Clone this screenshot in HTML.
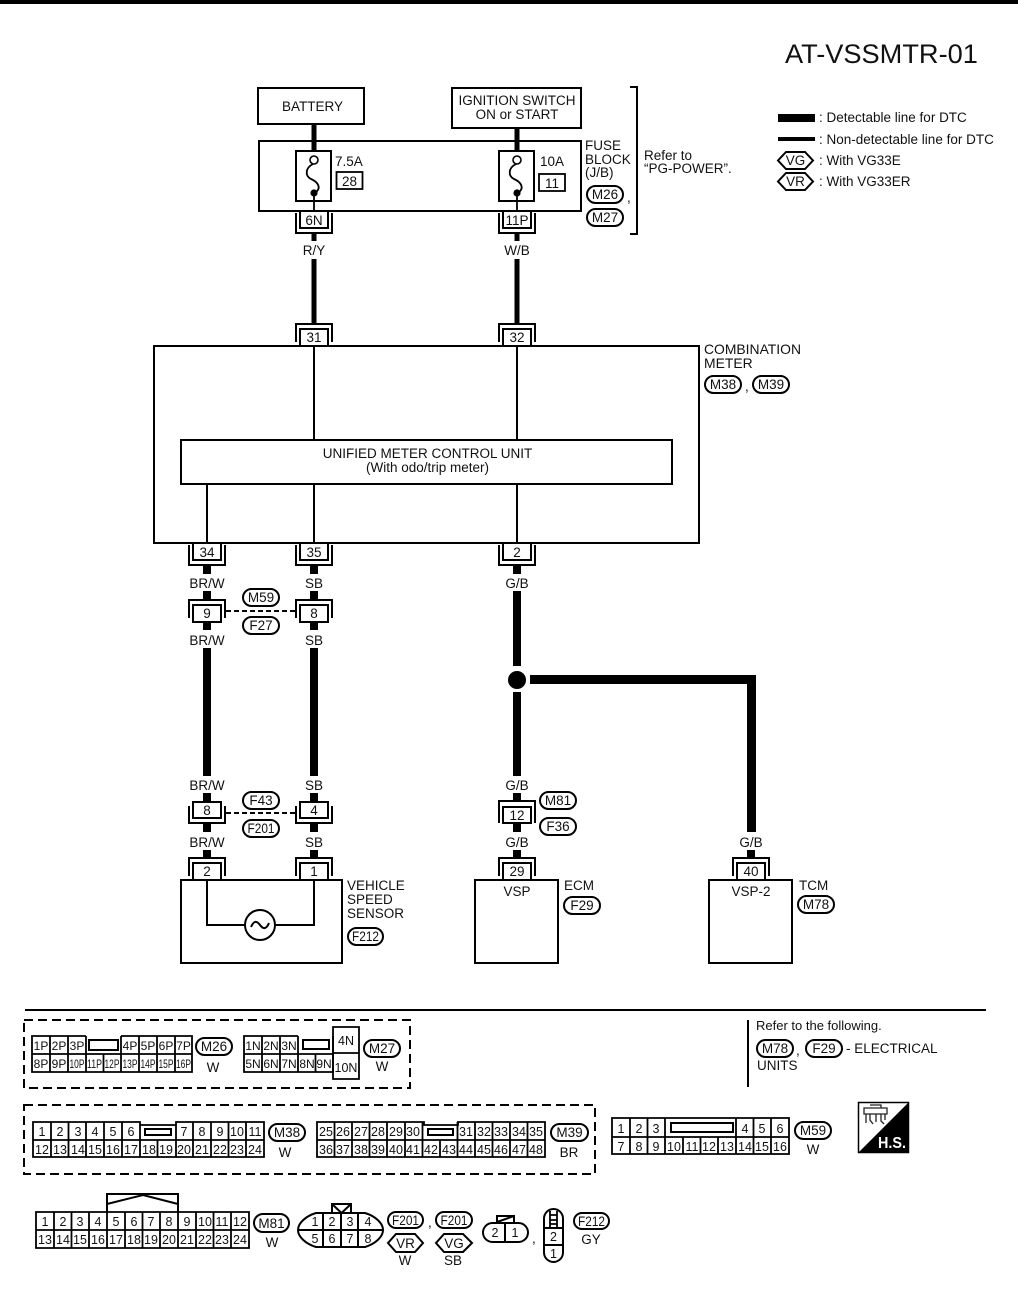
<!DOCTYPE html>
<html><head><meta charset="utf-8"><title>AT-VSSMTR-01</title>
<style>
html,body{margin:0;padding:0;background:#fff}
svg{display:block}
text{font-family:"Liberation Sans",sans-serif;font-size:13.5px;fill:#111}
.m{text-anchor:middle}
.g{font-size:12.5px;text-anchor:middle}
.h{font-size:12px;text-anchor:middle}
.l{fill:none;stroke:#000;stroke-width:2}
.t{fill:none;stroke:#000;stroke-width:1.8}
.p{fill:#fff;stroke:#000;stroke-width:2}
.w{stroke:#000;stroke-width:8;fill:none}
.n{stroke:#000;stroke-width:5;fill:none}
</style></head><body>
<svg xmlns="http://www.w3.org/2000/svg" width="1018" height="1293" viewBox="0 0 1018 1293">
<defs>
<g id="uo"><rect class="p" x="-14" y="0" width="28" height="17" /><path class="l" d="M-18 2V22H18V2"/></g>
<g id="dn"><path class="l" d="M-18 18V0H18V18"/><rect class="p" x="-14" y="5" width="28" height="17"/></g>
<g id="fuse"><rect class="l" x="-18" y="151" width="35" height="50"/>
<circle cx="0" cy="160" r="4" fill="#fff" stroke="#000" stroke-width="1.6"/>
<circle cx="0" cy="193" r="3.6" fill="#000"/>
<path class="t" d="M-1 164C-9 168-9 176-3 179C4 182 8 188 1 193"/><path class="t" d="M0 193V211"/></g>
</defs>
<rect x="0" y="0" width="1018" height="4" fill="#000"/>
<text x="785" y="63" style="font-size:27.2px">AT-VSSMTR-01</text>

<!-- top boxes -->
<rect class="l" x="258" y="88" width="106" height="36"/>
<text class="m" x="312.500" y="111">BATTERY</text>
<rect class="l" x="452" y="88" width="129" height="40"/>
<text class="m" x="517" y="105">IGNITION SWITCH</text>
<text class="m" x="517" y="119">ON or START</text>
<path class="n" d="M314 124V151M517 128V151"/>
<rect class="l" x="259" y="141" width="322" height="70"/>
<use href="#fuse" x="314"/><use href="#fuse" x="517"/>
<text x="335" y="166">7.5A</text>
<rect class="t" x="336.500" y="172" width="26" height="17"/><text class="m" x="349.500" y="186">28</text>
<text x="540" y="166">10A</text>
<rect class="t" x="539" y="174" width="26" height="17"/><text class="m" x="552" y="188">11</text>
<text x="585" y="150">FUSE</text><text x="585" y="164">BLOCK</text><text x="585" y="177">(J/B)</text>
<rect class="p" x="587" y="186" width="36" height="17" rx="8.500"/><text class="m" x="605" y="199">M26</text>
<text x="627" y="202">,</text>
<rect class="p" x="587" y="209" width="36" height="17" rx="8.500"/><text class="m" x="605" y="222">M27</text>
<path class="l" d="M630 87H637V234H630"/>
<text x="644" y="160">Refer to</text><text x="644" y="173">“PG-POWER”.</text>

<!-- legend -->
<rect x="778" y="114" width="37" height="8" fill="#000"/>
<rect x="778" y="137" width="37" height="4" fill="#000"/>
<text x="819" y="122">: Detectable line for DTC</text>
<text x="819" y="144">: Non-detectable line for DTC</text>
<text x="819" y="165">: With VG33E</text>
<text x="819" y="186">: With VG33ER</text>
<path class="p" d="M786 152H805L813 160.500L805 169H786L778 160.500Z"/><text class="m" x="795.500" y="165">VG</text>
<path class="p" d="M786 173H805L813 181.500L805 190H786L778 181.500Z"/><text class="m" x="795.500" y="186">VR</text>

<!-- fuse to meter connectors -->
<use href="#uo" x="314" y="211"/><use href="#uo" x="517" y="211"/>
<text class="m" x="314" y="225">6N</text><text class="m" x="517" y="225">11P</text>
<path class="n" d="M314 233V241M517 233V241M314 259V324M517 259V324"/>
<text class="m" x="314" y="255">R/Y</text><text class="m" x="517" y="255">W/B</text>
<use href="#dn" x="314" y="324"/><use href="#dn" x="517" y="324"/>
<text class="m" x="314" y="342">31</text><text class="m" x="517" y="342">32</text>

<!-- meter -->
<rect class="l" x="154" y="346" width="545" height="197"/>
<path class="l" d="M314 346V440M517 346V440M207 484V543M314 484V543M517 484V543"/>
<rect class="l" x="181" y="440" width="491" height="44"/>
<text class="m" x="427.500" y="458">UNIFIED METER CONTROL UNIT</text>
<text class="m" x="427.500" y="472">(With odo/trip meter)</text>
<text x="704" y="354" style="font-size:13.9px">COMBINATION</text><text x="704" y="368" style="font-size:13.9px">METER</text>
<rect class="p" x="705" y="376" width="36" height="17" rx="8.500"/><text class="m" x="723" y="389">M38</text>
<text x="745" y="391">,</text>
<rect class="p" x="753" y="376" width="36" height="17" rx="8.500"/><text class="m" x="771" y="389">M39</text>

<use href="#uo" x="207" y="543"/><use href="#uo" x="314" y="543"/><use href="#uo" x="517" y="543"/>
<text class="m" x="207" y="557">34</text><text class="m" x="314" y="557">35</text><text class="m" x="517" y="557">2</text>
<path class="w" d="M207 565V574M314 565V574M517 565V574"/>
<text class="m" x="207" y="588">BR/W</text><text class="m" x="314" y="588">SB</text><text class="m" x="517" y="588">G/B</text>
<path class="w" d="M207 591V600M314 591V600M207 622V630M314 622V630M207 648V776M314 648V776"/>
<use href="#dn" x="207" y="600"/><use href="#dn" x="314" y="600"/>
<text class="m" x="207" y="618">9</text><text class="m" x="314" y="618">8</text>
<path d="M226 611H297" fill="none" stroke="#000" stroke-width="2" stroke-dasharray="5 3"/>
<rect class="p" x="243" y="589" width="36" height="17" rx="8.500"/><text class="m" x="261" y="602">M59</text>
<rect class="p" x="243" y="617" width="36" height="17" rx="8.500"/><text class="m" x="261" y="630">F27</text>
<text class="m" x="207" y="645">BR/W</text><text class="m" x="314" y="645">SB</text>

<!-- G/B -->
<path class="w" d="M517 591V666M517 692V776"/>
<circle cx="517" cy="680" r="9" fill="#000"/>
<path stroke="#000" stroke-width="9" fill="none" d="M530 679.500H751.500V832"/>

<!-- lower -->
<text class="m" x="207" y="790">BR/W</text><text class="m" x="314" y="790">SB</text><text class="m" x="517" y="790">G/B</text>
<path class="w" d="M207 793V802M314 793V802M517 793V802"/>
<rect class="p" x="193" y="802" width="28" height="16"/><path class="l" d="M189 806V823H225V806"/>
<rect class="p" x="300" y="802" width="28" height="16"/><path class="l" d="M296 806V823H332V806"/>
<text class="m" x="207" y="815">8</text><text class="m" x="314" y="815">4</text>
<path class="w" d="M207 823V832M314 823V832M517 823V832"/>
<path d="M226 813H297" fill="none" stroke="#000" stroke-width="2" stroke-dasharray="5 3"/>
<rect class="p" x="243" y="792" width="36" height="17" rx="8.500"/><text class="m" x="261" y="805">F43</text>
<rect class="p" x="243" y="820" width="36" height="17" rx="8.500"/><text class="m" x="261" y="833" textLength="27" lengthAdjust="spacingAndGlyphs">F201</text>
<path class="l" d="M499 823V801H535V823"/>
<rect class="p" x="503" y="807" width="28" height="16"/><text class="m" x="517" y="820">12</text>
<rect class="p" x="540" y="792" width="36" height="17" rx="8.500"/><text class="m" x="558" y="805">M81</text>
<rect class="p" x="540" y="818" width="36" height="17" rx="8.500"/><text class="m" x="558" y="831">F36</text>

<text class="m" x="207" y="847">BR/W</text><text class="m" x="314" y="847">SB</text><text class="m" x="517" y="847">G/B</text><text class="m" x="751" y="847">G/B</text>
<path class="w" d="M207 850V858M314 850V858M517 850V858M751 850V858"/>
<rect class="l" x="181" y="880" width="161" height="83"/>
<rect class="l" x="475" y="880" width="83" height="83"/>
<rect class="l" x="709" y="880" width="83" height="83"/>
<use href="#dn" x="207" y="858"/><use href="#dn" x="314" y="858"/><use href="#dn" x="517" y="858"/><use href="#dn" x="751" y="858"/>
<text class="m" x="207" y="876">2</text><text class="m" x="314" y="876">1</text><text class="m" x="517" y="876">29</text><text class="m" x="751" y="876">40</text>
<path class="l" d="M207 880V925H245M275 925H314V880"/>
<circle cx="260" cy="925" r="15" class="l"/>
<path class="l" d="M251 927C254 920 257 921 260 925C263 929 266 930 269 923"/>
<text x="347" y="890">VEHICLE</text><text x="347" y="904">SPEED</text><text x="347" y="918">SENSOR</text>
<rect class="p" x="348" y="928" width="35" height="17" rx="8.500"/><text class="m" x="365.500" y="941" textLength="27" lengthAdjust="spacingAndGlyphs">F212</text>
<text class="m" x="517" y="896">VSP</text><text class="m" x="751" y="896">VSP-2</text>
<text x="564" y="890">ECM</text>
<rect class="p" x="564" y="897" width="36" height="17" rx="8.500"/><text class="m" x="582" y="910">F29</text>
<text x="799" y="890">TCM</text>
<rect class="p" x="798" y="896" width="36" height="17" rx="8.500"/><text class="m" x="816" y="909">M78</text>

<!-- separators -->
<path class="l" d="M25 1010H986M748 1020V1087"/>
<text x="756" y="1030" style="font-size:13px">Refer to the following.</text>
<rect class="p" x="757" y="1040" width="36" height="17" rx="8.500"/><text class="m" x="775" y="1053">M78</text>
<text x="796" y="1055">,</text>
<rect class="p" x="806" y="1040" width="36" height="17" rx="8.500"/><text class="m" x="824" y="1053">F29</text>
<text x="846" y="1053">- ELECTRICAL</text>
<text x="757" y="1070">UNITS</text>

<!-- dashed boxes -->
<rect x="24" y="1020" width="386" height="68" fill="none" stroke="#000" stroke-width="2" stroke-dasharray="9 5"/>
<rect x="24" y="1105" width="571" height="69" fill="none" stroke="#000" stroke-width="2" stroke-dasharray="9 5"/>

<!-- M26 -->
<path class="t" d="M86 1036H32V1072H192V1036H121M32 1054H192M50 1036V1072M68 1036V1072M86 1036V1072M103.500 1054V1072M121 1036V1072M139 1036V1072M157 1036V1072M175 1036V1072"/>
<rect x="89" y="1040" width="29" height="10" fill="none" stroke="#000" stroke-width="2"/>
<text class="h" x="41" y="1050">1P</text><text class="h" x="59" y="1050">2P</text><text class="h" x="77" y="1050">3P</text><text class="h" x="130" y="1050">4P</text><text class="h" x="148" y="1050">5P</text><text class="h" x="166" y="1050">6P</text><text class="h" x="183.500" y="1050">7P</text>
<text class="h" x="41" y="1068">8P</text><text class="h" x="59" y="1068">9P</text>
<text class="h" x="77" y="1068" textLength="15" lengthAdjust="spacingAndGlyphs">10P</text><text class="h" x="94.500" y="1068" textLength="15" lengthAdjust="spacingAndGlyphs">11P</text><text class="h" x="112" y="1068" textLength="15" lengthAdjust="spacingAndGlyphs">12P</text><text class="h" x="130" y="1068" textLength="15" lengthAdjust="spacingAndGlyphs">13P</text><text class="h" x="148" y="1068" textLength="15" lengthAdjust="spacingAndGlyphs">14P</text><text class="h" x="166" y="1068" textLength="15" lengthAdjust="spacingAndGlyphs">15P</text><text class="h" x="183.500" y="1068" textLength="15" lengthAdjust="spacingAndGlyphs">16P</text>
<rect class="p" x="196" y="1038" width="36" height="17" rx="8.500"/><text class="m" x="214" y="1051">M26</text>
<text class="m" x="213" y="1072">W</text>

<!-- M27 -->
<path class="t" d="M298 1036H244V1072H333V1036M244 1054H333M262 1036V1072M280 1036V1072M298 1036V1072M315.500 1054V1072"/>
<rect x="303" y="1040" width="26" height="9" fill="none" stroke="#000" stroke-width="2"/>
<path class="t" d="M333 1027H359V1079H333ZM333 1053H359"/>
<text class="h" x="253" y="1050">1N</text><text class="h" x="271" y="1050">2N</text><text class="h" x="289" y="1050">3N</text>
<text class="h" x="253" y="1068">5N</text><text class="h" x="271" y="1068">6N</text><text class="h" x="289" y="1068">7N</text><text class="h" x="307" y="1068">8N</text><text class="h" x="324" y="1068">9N</text>
<text class="g" x="346" y="1045">4N</text><text class="g" x="346" y="1072">10N</text>
<rect class="p" x="364" y="1040" width="36" height="17" rx="8.500"/><text class="m" x="382" y="1053">M27</text>
<text class="m" x="382" y="1071">W</text>

<!-- M38 -->
<path class="t" d="M33 1122H140V1125H176V1122H264V1157H33ZM33 1140H264M51 1122V1157M68.500 1122V1157M86 1122V1157M104 1122V1157M122 1122V1157M140 1122V1157M157.500 1140V1157M176 1122V1157M193 1122V1157M211 1122V1157M228.500 1122V1157M246 1122V1157"/>
<rect x="145" y="1129" width="26" height="6" fill="none" stroke="#000" stroke-width="2"/>
<text class="g" x="42" y="1136">1</text><text class="g" x="60" y="1136">2</text><text class="g" x="78" y="1136">3</text><text class="g" x="95" y="1136">4</text><text class="g" x="113" y="1136">5</text><text class="g" x="131" y="1136">6</text><text class="g" x="184" y="1136">7</text><text class="g" x="202" y="1136">8</text><text class="g" x="220" y="1136">9</text><text class="g" x="237" y="1136">10</text><text class="g" x="255" y="1136">11</text>
<text class="g" x="42" y="1154">12</text><text class="g" x="60" y="1154">13</text><text class="g" x="78" y="1154">14</text><text class="g" x="95" y="1154">15</text><text class="g" x="113" y="1154">16</text><text class="g" x="131" y="1154">17</text><text class="g" x="149" y="1154">18</text><text class="g" x="166" y="1154">19</text><text class="g" x="184" y="1154">20</text><text class="g" x="202" y="1154">21</text><text class="g" x="220" y="1154">22</text><text class="g" x="237" y="1154">23</text><text class="g" x="255" y="1154">24</text>
<rect class="p" x="269" y="1124" width="36" height="17" rx="8.500"/><text class="m" x="287" y="1137">M38</text>
<text class="m" x="285" y="1157">W</text>

<!-- M39 -->
<path class="t" d="M317 1122H424V1125H458V1122H545V1157H317ZM317 1140H545M334.500 1122V1157M352 1122V1157M369.500 1122V1157M387 1122V1157M405 1122V1157M422.500 1122V1157M440 1140V1157M457.500 1122V1157M475 1122V1157M492.500 1122V1157M510 1122V1157M527.500 1122V1157"/>
<rect x="428" y="1129" width="25" height="6" fill="none" stroke="#000" stroke-width="2"/>
<text class="g" x="326" y="1136">25</text><text class="g" x="343" y="1136">26</text><text class="g" x="361" y="1136">27</text><text class="g" x="378" y="1136">28</text><text class="g" x="396" y="1136">29</text><text class="g" x="413" y="1136">30</text><text class="g" x="466" y="1136">31</text><text class="g" x="484" y="1136">32</text><text class="g" x="501" y="1136">33</text><text class="g" x="519" y="1136">34</text><text class="g" x="536" y="1136">35</text>
<text class="g" x="326" y="1154">36</text><text class="g" x="343" y="1154">37</text><text class="g" x="361" y="1154">38</text><text class="g" x="378" y="1154">39</text><text class="g" x="396" y="1154">40</text><text class="g" x="413" y="1154">41</text><text class="g" x="431" y="1154">42</text><text class="g" x="449" y="1154">43</text><text class="g" x="466" y="1154">44</text><text class="g" x="484" y="1154">45</text><text class="g" x="501" y="1154">46</text><text class="g" x="519" y="1154">47</text><text class="g" x="536" y="1154">48</text>
<rect class="p" x="551" y="1124" width="37" height="17" rx="8.500"/><text class="m" x="569.500" y="1137">M39</text>
<text class="m" x="569" y="1157">BR</text>

<!-- M59 -->
<path class="t" d="M612 1118H789V1154H612ZM612 1137H789M630 1118V1154M647.500 1118V1154M665 1118V1154M683 1137V1154M700.500 1137V1154M718 1137V1154M736 1118V1154M753.500 1118V1154M771 1118V1154"/>
<rect x="671" y="1123" width="62" height="9" fill="none" stroke="#000" stroke-width="2"/>
<text class="g" x="621" y="1133">1</text><text class="g" x="639" y="1133">2</text><text class="g" x="656" y="1133">3</text><text class="g" x="745" y="1133">4</text><text class="g" x="762" y="1133">5</text><text class="g" x="780" y="1133">6</text>
<text class="g" x="621" y="1151">7</text><text class="g" x="639" y="1151">8</text><text class="g" x="656" y="1151">9</text><text class="g" x="674" y="1151">10</text><text class="g" x="692" y="1151">11</text><text class="g" x="709" y="1151">12</text><text class="g" x="727" y="1151">13</text><text class="g" x="745" y="1151">14</text><text class="g" x="762" y="1151">15</text><text class="g" x="780" y="1151">16</text>
<rect class="p" x="795" y="1122" width="36" height="17" rx="8.500"/><text class="m" x="813" y="1135">M59</text>
<text class="m" x="813" y="1154">W</text>

<!-- H.S. -->
<rect x="858.500" y="1102.500" width="50" height="50" fill="#fff" stroke="#000" stroke-width="1.500"/>
<path d="M908.500 1102.500V1152.500H858.500Z" fill="#000"/>
<path fill="none" stroke="#222" stroke-width="1.300" d="M864 1108H887V1114H864ZM870 1105H881V1108M866 1114V1123M870 1114V1120L873 1124M876 1114V1122M881 1114V1121L884 1124M885 1114V1120"/>
<text x="878" y="1148" style="font-size:16px;font-weight:bold;fill:#fff" textLength="28" lengthAdjust="spacingAndGlyphs">H.S.</text>

<!-- M81 -->
<path class="l" d="M107 1212V1194H178V1212M107 1204L143 1195L178 1204"/>
<path class="t" d="M36 1212H249V1248H36ZM36 1230H249M54 1212V1248M71.500 1212V1248M89 1212V1248M107 1212V1248M125 1212V1248M142.500 1212V1248M160 1212V1248M178 1212V1248M196 1212V1248M213.500 1212V1248M231 1212V1248"/>
<text class="g" x="45" y="1226">1</text><text class="g" x="63" y="1226">2</text><text class="g" x="80" y="1226">3</text><text class="g" x="98" y="1226">4</text><text class="g" x="116" y="1226">5</text><text class="g" x="134" y="1226">6</text><text class="g" x="151" y="1226">7</text><text class="g" x="169" y="1226">8</text><text class="g" x="187" y="1226">9</text><text class="g" x="205" y="1226">10</text><text class="g" x="222" y="1226">11</text><text class="g" x="240" y="1226">12</text>
<text class="g" x="45" y="1244">13</text><text class="g" x="63" y="1244">14</text><text class="g" x="80" y="1244">15</text><text class="g" x="98" y="1244">16</text><text class="g" x="116" y="1244">17</text><text class="g" x="134" y="1244">18</text><text class="g" x="151" y="1244">19</text><text class="g" x="169" y="1244">20</text><text class="g" x="187" y="1244">21</text><text class="g" x="205" y="1244">22</text><text class="g" x="222" y="1244">23</text><text class="g" x="240" y="1244">24</text>
<rect class="p" x="254" y="1214" width="35" height="18" rx="9"/><text class="m" x="271.500" y="1228">M81</text>
<text class="m" x="272" y="1247">W</text>

<!-- F201 oval -->
<path class="l" d="M332 1213V1204H351V1213M332 1204L341.500 1213L351 1204"/>
<path class="l" d="M316 1213H365C375 1216 383 1223 383 1230C383 1237 375 1244 365 1247H316C306 1244 298 1237 298 1230C298 1223 306 1216 316 1213ZM298 1230H383M323 1213V1247M341 1213V1247M358 1213V1247"/>
<text class="g" x="315" y="1226">1</text><text class="g" x="332" y="1226">2</text><text class="g" x="350" y="1226">3</text><text class="g" x="368" y="1226">4</text>
<text class="g" x="315" y="1243">5</text><text class="g" x="332" y="1243">6</text><text class="g" x="350" y="1243">7</text><text class="g" x="368" y="1243">8</text>
<rect class="p" x="388" y="1212" width="35" height="16" rx="8"/><text class="m" x="405.500" y="1225" textLength="27" lengthAdjust="spacingAndGlyphs">F201</text>
<text x="428" y="1227">,</text>
<rect class="p" x="436" y="1212" width="36" height="16" rx="8"/><text class="m" x="454" y="1225" textLength="27" lengthAdjust="spacingAndGlyphs">F201</text>
<path class="p" d="M396 1234H415L423 1243L415 1252H396L388 1243Z"/><text class="m" x="405.500" y="1248">VR</text>
<path class="p" d="M444 1234H463L472 1243L463 1252H444L436 1243Z"/><text class="m" x="454" y="1248">VG</text>
<text class="m" x="405" y="1265">W</text><text class="m" x="453" y="1265">SB</text>

<!-- 2-pin -->
<path class="l" d="M497 1223V1216H514V1223M497 1222L514 1216"/>
<rect class="l" x="483" y="1223" width="45" height="19" rx="9.500"/>
<path class="l" d="M505 1223V1242"/>
<text class="g" x="495" y="1237">2</text><text class="g" x="515" y="1237">1</text>
<text x="532" y="1243">,</text>
<rect class="l" x="544" y="1209" width="19" height="53" rx="9.500"/>
<path class="l" d="M544 1228H563M544 1245H563"/>
<path class="t" d="M550 1211V1228M557 1211V1228M550 1215H557M550 1220H557M550 1224H557"/>
<text class="g" x="553.500" y="1241">2</text><text class="g" x="553.500" y="1258">1</text>
<rect class="p" x="574" y="1213" width="35" height="16" rx="8"/><text class="m" x="591.500" y="1226" textLength="27" lengthAdjust="spacingAndGlyphs">F212</text>
<text class="m" x="591" y="1244">GY</text>
</svg>
</body></html>
